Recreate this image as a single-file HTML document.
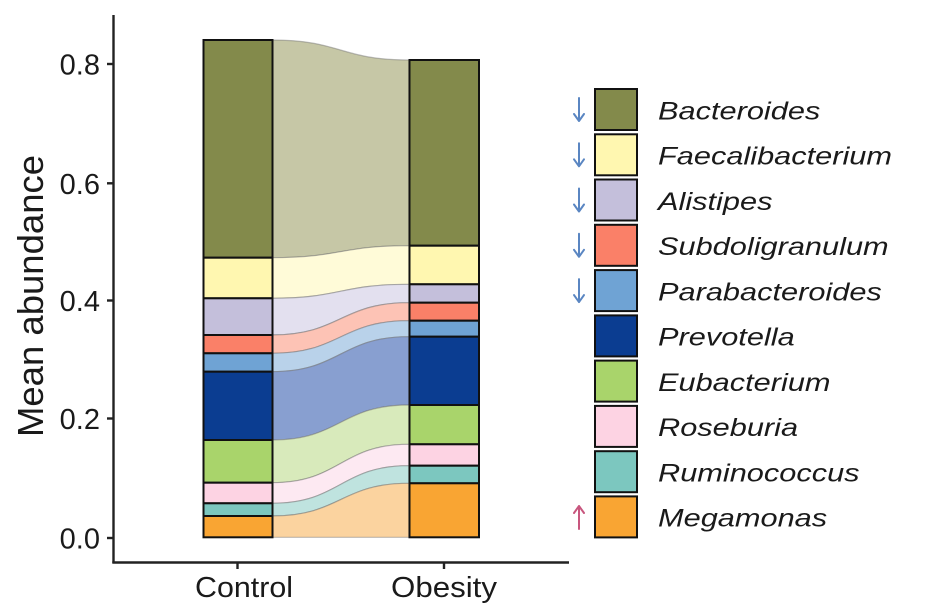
<!DOCTYPE html>
<html><head><meta charset="utf-8"><style>
html,body{margin:0;padding:0;background:#fff;}
svg{display:block;}
text{font-family:"Liberation Sans",Arial,sans-serif;fill:#1a1a1a;}
</style></head><body>
<svg width="936" height="615" viewBox="0 0 936 615" xmlns="http://www.w3.org/2000/svg">
<rect width="936" height="615" fill="#fff"/>
<!-- flows -->
<g stroke="rgba(110,110,110,0.45)" stroke-width="1.2" opacity="1">
<path d="M272,40 C340.5,40 340.5,60 409,60 L409,245.7 C340.5,245.7 340.5,257.7 272,257.7 Z" fill="#c6c7a6"/>
<path d="M272,257.7 C340.5,257.7 340.5,245.7 409,245.7 L409,284.3 C340.5,284.3 340.5,298.3 272,298.3 Z" fill="#fffbd8"/>
<path d="M272,298.3 C340.5,298.3 340.5,284.3 409,284.3 L409,302.7 C340.5,302.7 340.5,335 272,335 Z" fill="#e3e0ef"/>
<path d="M272,335 C340.5,335 340.5,302.7 409,302.7 L409,320.7 C340.5,320.7 340.5,353.3 272,353.3 Z" fill="#fdc3b5"/>
<path d="M272,353.3 C340.5,353.3 340.5,320.7 409,320.7 L409,336.7 C340.5,336.7 340.5,371.7 272,371.7 Z" fill="#b9d2ea"/>
<path d="M272,371.7 C340.5,371.7 340.5,336.7 409,336.7 L409,405 C340.5,405 340.5,440 272,440 Z" fill="#889fd0"/>
<path d="M272,440 C340.5,440 340.5,405 409,405 L409,444.3 C340.5,444.3 340.5,482.7 272,482.7 Z" fill="#d8eabb"/>
<path d="M272,482.7 C340.5,482.7 340.5,444.3 409,444.3 L409,465.7 C340.5,465.7 340.5,503.3 272,503.3 Z" fill="#fde9f2"/>
<path d="M272,503.3 C340.5,503.3 340.5,465.7 409,465.7 L409,483.3 C340.5,483.3 340.5,516 272,516 Z" fill="#bfe3df"/>
<path d="M272,516 C340.5,516 340.5,483.3 409,483.3 L409,537.3 C340.5,537.3 340.5,537.3 272,537.3 Z" fill="#fbd39f"/>
</g>
<!-- control bar -->
<g stroke="#111" stroke-width="2">
<rect x="203.5" y="40" width="69" height="217.7" fill="#838a4b"/>
<rect x="203.5" y="257.7" width="69" height="40.6" fill="#fff7b0"/>
<rect x="203.5" y="298.3" width="69" height="36.7" fill="#c4bfdb"/>
<rect x="203.5" y="335" width="69" height="18.3" fill="#fa8068"/>
<rect x="203.5" y="353.3" width="69" height="18.4" fill="#6fa3d4"/>
<rect x="203.5" y="371.7" width="69" height="68.3" fill="#0b3d91"/>
<rect x="203.5" y="440" width="69" height="42.7" fill="#a9d46b"/>
<rect x="203.5" y="482.7" width="69" height="20.6" fill="#fdd3e3"/>
<rect x="203.5" y="503.3" width="69" height="12.7" fill="#7cc7bf"/>
<rect x="203.5" y="516" width="69" height="21.3" fill="#f9a533"/>
</g>
<!-- obesity bar -->
<g stroke="#111" stroke-width="2">
<rect x="409.5" y="60" width="69.5" height="185.7" fill="#838a4b"/>
<rect x="409.5" y="245.7" width="69.5" height="38.6" fill="#fff7b0"/>
<rect x="409.5" y="284.3" width="69.5" height="18.4" fill="#c4bfdb"/>
<rect x="409.5" y="302.7" width="69.5" height="18" fill="#fa8068"/>
<rect x="409.5" y="320.7" width="69.5" height="16" fill="#6fa3d4"/>
<rect x="409.5" y="336.7" width="69.5" height="68.3" fill="#0b3d91"/>
<rect x="409.5" y="405" width="69.5" height="39.3" fill="#a9d46b"/>
<rect x="409.5" y="444.3" width="69.5" height="21.4" fill="#fdd3e3"/>
<rect x="409.5" y="465.7" width="69.5" height="17.6" fill="#7cc7bf"/>
<rect x="409.5" y="483.3" width="69.5" height="54" fill="#f9a533"/>
</g>
<!-- axes -->
<g stroke="#222" stroke-width="2.4" fill="none">
<line x1="113.5" y1="15" x2="113.5" y2="563"/>
<line x1="112.3" y1="562.5" x2="569" y2="562.5"/>
<line x1="107" y1="64" x2="113" y2="64"/>
<line x1="107" y1="183.3" x2="113" y2="183.3"/>
<line x1="107" y1="300.5" x2="113" y2="300.5"/>
<line x1="107" y1="418.5" x2="113" y2="418.5"/>
<line x1="107" y1="538" x2="113" y2="538"/>
<line x1="237.5" y1="563" x2="237.5" y2="569"/>
<line x1="444" y1="563" x2="444" y2="569"/>
</g>
<g font-size="29" text-anchor="end">
<text x="100" y="74.5">0.8</text>
<text x="100" y="193.8">0.6</text>
<text x="100" y="311">0.4</text>
<text x="100" y="429">0.2</text>
<text x="100" y="548.5">0.0</text>
</g>
<g font-size="29" text-anchor="middle">
<text x="244" y="597" textLength="98" lengthAdjust="spacingAndGlyphs">Control</text>
<text x="444" y="597" textLength="106" lengthAdjust="spacingAndGlyphs">Obesity</text>
</g>
<text transform="translate(43,296) rotate(-90)" font-size="36.5" text-anchor="middle">Mean abundance</text>
<!-- legend -->
<g stroke="#111" stroke-width="2">
<rect x="595" y="89" width="42" height="41" fill="#838a4b"/>
<rect x="595" y="134.3" width="42" height="41" fill="#fff7b0"/>
<rect x="595" y="179.5" width="42" height="41" fill="#c4bfdb"/>
<rect x="595" y="224.8" width="42" height="41" fill="#fa8068"/>
<rect x="595" y="270.1" width="42" height="41" fill="#6fa3d4"/>
<rect x="595" y="315.4" width="42" height="41" fill="#0b3d91"/>
<rect x="595" y="360.6" width="42" height="41" fill="#a9d46b"/>
<rect x="595" y="405.9" width="42" height="41" fill="#fdd3e3"/>
<rect x="595" y="451.2" width="42" height="41" fill="#7cc7bf"/>
<rect x="595" y="496.4" width="42" height="41" fill="#f9a533"/>
</g>
<g font-size="24.6" font-style="italic">
<text transform="translate(658,119.3) scale(1.25,1)">Bacteroides</text>
<text transform="translate(658,164.6) scale(1.25,1)">Faecalibacterium</text>
<text transform="translate(658,209.8) scale(1.25,1)">Alistipes</text>
<text transform="translate(658,255.1) scale(1.25,1)">Subdoligranulum</text>
<text transform="translate(658,300.4) scale(1.25,1)">Parabacteroides</text>
<text transform="translate(658,345.7) scale(1.25,1)">Prevotella</text>
<text transform="translate(658,390.9) scale(1.25,1)">Eubacterium</text>
<text transform="translate(658,436.2) scale(1.25,1)">Roseburia</text>
<text transform="translate(658,481.5) scale(1.25,1)">Ruminococcus</text>
<text transform="translate(658,526.7) scale(1.25,1)">Megamonas</text>
</g>
<!-- arrows -->
<g stroke="#5a86c2" stroke-width="2" fill="none" stroke-linecap="round" stroke-linejoin="round">
<path d="M579,98 L579,121 M574,114 L579,121 L584,114"/>
<path d="M579,143.3 L579,166.3 M574,159.3 L579,166.3 L584,159.3"/>
<path d="M579,188.5 L579,211.5 M574,204.5 L579,211.5 L584,204.5"/>
<path d="M579,233.8 L579,256.8 M574,249.8 L579,256.8 L584,249.8"/>
<path d="M579,279.1 L579,302.1 M574,295.1 L579,302.1 L584,295.1"/>
</g>
<g stroke="#c8567e" stroke-width="2" fill="none" stroke-linecap="round" stroke-linejoin="round">
<path d="M579,529 L579,506 M574,513 L579,506 L584,513"/>
</g>
</svg>
</body></html>
